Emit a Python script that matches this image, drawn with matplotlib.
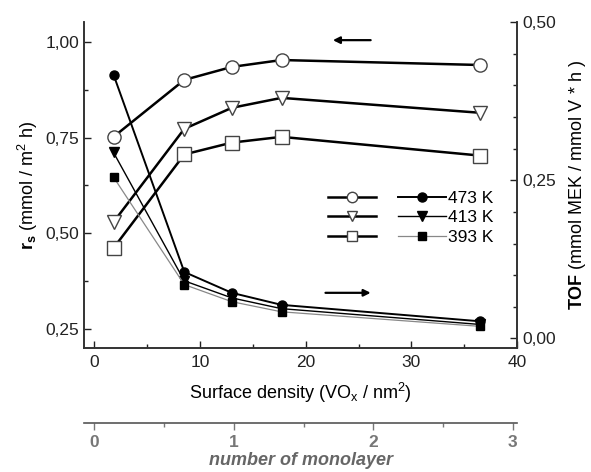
import matplotlib
import matplotlib.pyplot as plt
from matplotlib.lines import Line2D
from matplotlib.ticker import FixedLocator, MultipleLocator, FuncFormatter
matplotlib.use('Agg')

plt.rcParams['font.family'] = ['Liberation Sans', 'DejaVu Sans']
plt.rcParams['mathtext.fontset'] = 'custom'
plt.rcParams['mathtext.rm'] = 'Liberation Sans'
plt.rcParams['mathtext.bf'] = 'Liberation Sans:bold'
plt.rcParams['mathtext.it'] = 'Liberation Sans:italic'

density = [1.8, 8.5, 13.0, 17.7, 36.5]

# r_s, left axis (open markers)
rs_473 = [0.752, 0.901, 0.935, 0.953, 0.940]
rs_413 = [0.529, 0.773, 0.828, 0.854, 0.815]
rs_393 = [0.461, 0.706, 0.737, 0.752, 0.703]

# TOF, right axis (filled markers)
tof_473 = [0.417, 0.105, 0.072, 0.053, 0.027]
tof_413 = [0.294, 0.091, 0.064, 0.047, 0.022]
tof_393 = [0.255, 0.085, 0.058, 0.042, 0.019]

temps = ["473 K", "413 K", "393 K"]
layer_ticks = [0, 1, 2, 3]
layer_factor = 13.2  # VOx/nm2 per monolayer


def comma(v, pos):
    return f"{v:.2f}".replace(".", ",")


def main():
    fig = plt.figure(figsize=(5.91, 4.72), dpi=100)
    ax = fig.add_axes([0.142, 0.263, 0.733, 0.690])
    ax2 = ax.twinx()
    dark = "#222222"

    mk = dict(markerfacecolor="white", markeredgecolor="#444444",
              markeredgewidth=1.0, markersize=9.5, color="black", lw=1.8)
    ax.plot(density, rs_473, marker="o", **mk)
    ax.plot(density, rs_413, marker="v", **mk)
    ax.plot(density, rs_393, marker="s", **mk)

    fk = [dict(marker="o", color="black", lw=1.4, markersize=6.5),
          dict(marker="v", color="black", lw=1.0, markersize=6.5),
          dict(marker="s", color="#888888", lw=0.9, markersize=6,
               markerfacecolor="black", markeredgecolor="black")]
    ax2.plot(density, tof_473, **fk[0])
    ax2.plot(density, tof_413, **fk[1])
    ax2.plot(density, tof_393, **fk[2])

    ax.set_xlim(-1, 40)
    ax.set_ylim(0.20, 1.052)
    ax2.set_ylim(-0.015, 0.50)

    ax.xaxis.set_major_locator(MultipleLocator(10))
    ax.xaxis.set_minor_locator(MultipleLocator(5))
    ax.yaxis.set_major_locator(FixedLocator([0.25, 0.5, 0.75, 1.0]))
    ax.yaxis.set_minor_locator(FixedLocator([0.375, 0.625, 0.875]))
    ax.yaxis.set_major_formatter(FuncFormatter(comma))
    ax2.yaxis.set_major_locator(FixedLocator([0.0, 0.25, 0.5]))
    ax2.yaxis.set_minor_locator(MultipleLocator(0.05))
    ax2.yaxis.set_major_formatter(FuncFormatter(comma))

    for a in (ax, ax2):
        a.tick_params(which="both", direction="in", colors=dark,
                      labelsize=12.5, width=1.0)
        a.tick_params(which="major", length=5)
        a.tick_params(which="minor", length=3)
        for s in a.spines.values():
            s.set_color("#333333")
            s.set_linewidth(1.2)
    ax.spines["top"].set_visible(False)
    ax2.spines["top"].set_visible(False)
    ax.tick_params(axis="x", pad=5)

    ax.set_xlabel(r"Surface density (VO$_\mathrm{x}$ / nm$^2$)", fontsize=13,
                  labelpad=8)
    ax.set_ylabel(r"$\mathbf{r_s}$ (mmol / m$^2$ h)", fontsize=13,
                  labelpad=4)
    ax2.set_ylabel(r"$\mathbf{TOF}$ (mmol MEK / mmol V * h )", fontsize=13,
                   labelpad=8)

    # arrows pointing to the axis of each data group
    ax.annotate("", xy=(22.3, 1.005), xytext=(26.4, 1.005),
                arrowprops=dict(arrowstyle="-|>", color="black", lw=1.6,
                                mutation_scale=10))
    ax.annotate("", xy=(26.4, 0.344), xytext=(21.6, 0.344),
                arrowprops=dict(arrowstyle="-|>", color="black", lw=1.6,
                                mutation_scale=10))

    # legend with smaller open markers than in the plot
    lk = dict(mk, markersize=7.5)
    handles = [Line2D([], [], marker="o", **lk),
               Line2D([], [], marker="v", **lk),
               Line2D([], [], marker="s", **lk),
               Line2D([], [], **fk[0]),
               Line2D([], [], **fk[1]),
               Line2D([], [], **fk[2])]
    labels = ["", "", "", temps[0], temps[1], temps[2]]
    ax2.legend(handles, labels, ncol=2, frameon=False, fontsize=12.5,
               loc="center", bbox_to_anchor=(0.755, 0.40),
               handlelength=2.75, handletextpad=0.15, columnspacing=1.1,
               labelspacing=0.25)

    # second scale: number of monolayer
    sec = ax.secondary_xaxis(-0.23, functions=(lambda x: x / layer_factor,
                                                 lambda m: m * layer_factor))
    sec.set_xticks(layer_ticks)
    sec.xaxis.set_minor_locator(MultipleLocator(0.5))
    sec.tick_params(which="both", direction="out", colors="#777777",
                    labelsize=12.5, width=1.0)
    sec.tick_params(which="major", length=5)
    sec.tick_params(which="minor", length=3)
    for lab in sec.get_xticklabels():
        lab.set_fontweight("bold")
    sec.spines["bottom"].set_color("#555555")
    sec.spines["bottom"].set_linewidth(1.2)
    sec.set_xlabel("number of monolayer", fontsize=13, color="#666666",
                   fontweight="bold", fontstyle="italic", labelpad=2)

    fig.savefig("out.png", dpi=100)


if __name__ == "__main__":
    main()
